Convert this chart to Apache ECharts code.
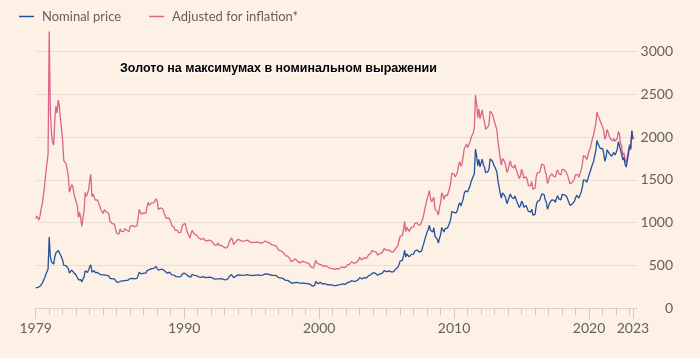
<!DOCTYPE html>
<html><head><meta charset="utf-8">
<script src="https://cdn.jsdelivr.net/npm/echarts@6/dist/echarts.min.js"></script>
<style>html,body{margin:0;padding:0;background:#FDF1E6}#c{width:700px;height:358px}</style>
</head><body><div id="c"></div>
<script>
const chartTitle = 'Золото на максимумах в номинальном выражении';
const seriesNames = ['Nominal price', 'Adjusted for inflation*'];
const startYear = 1979; // monthly data from January 1979
const nominal = [
236,245,242,239,257,279,295,301,355,392,392,456,
830,600,540,517,514,600,644,627,674,661,623,594,
557,500,499,495,480,460,409,410,443,437,413,410,
384,374,330,350,333,305,340,364,436,422,415,444,
481,505,420,432,438,413,422,416,412,394,382,388,
371,387,394,381,377,377,348,348,341,341,341,320,
303,299,304,325,316,317,317,330,323,326,325,322,
345,339,346,340,342,343,348,376,418,423,398,391,
408,401,409,438,460,449,451,461,460,465,467,486,
477,442,443,452,451,451,437,431,413,406,420,419,
404,388,390,384,371,367,375,365,362,367,394,409,
410,417,393,375,369,352,362,395,389,381,382,378,
384,364,363,358,357,367,368,356,349,359,360,361,
354,354,345,338,337,341,353,340,345,344,335,334,
329,330,330,342,367,372,392,379,355,364,374,383,
387,382,384,377,381,386,385,380,391,389,384,379,
379,377,382,391,385,387,386,383,383,383,386,387,
400,405,396,393,392,385,383,387,383,381,378,369,
355,347,352,344,344,341,324,324,323,325,306,289,
289,297,296,308,299,292,293,284,289,296,294,291,
287,288,286,282,277,262,256,257,265,311,293,283,
285,300,286,280,275,286,282,275,274,270,266,272,
266,262,263,261,272,270,268,273,283,283,276,276,
282,296,294,302,314,321,313,310,319,317,319,333,
357,359,340,328,355,356,351,360,379,379,389,407,
414,405,406,404,384,392,398,401,405,420,439,442,
424,423,434,429,422,431,424,438,456,470,476,509,
549,555,557,610,676,596,633,632,598,585,627,629,
631,665,655,679,667,655,665,665,713,754,806,803,
889,922,968,909,888,889,939,839,829,806,760,816,
858,943,924,890,928,946,934,949,996,1043,1127,1135,
1118,1095,1114,1148,1205,1233,1193,1215,1271,1343,1370,1391,
1360,1374,1424,1474,1510,1529,1573,1860,1780,1665,1739,1652,
1656,1743,1674,1650,1585,1596,1594,1626,1745,1747,1721,1684,
1671,1627,1593,1487,1414,1343,1286,1347,1349,1316,1275,1221,
1244,1300,1336,1299,1288,1279,1311,1296,1239,1222,1176,1200,
1251,1227,1179,1198,1199,1181,1131,1117,1125,1157,1086,1068,
1097,1200,1246,1242,1260,1276,1337,1341,1326,1266,1238,1157,
1192,1234,1231,1267,1246,1260,1236,1283,1315,1280,1282,1265,
1331,1331,1325,1335,1304,1281,1238,1202,1199,1215,1221,1250,
1291,1320,1301,1286,1284,1359,1413,1500,1510,1495,1471,1480,
1560,1597,1591,1683,1716,1732,1846,1960,1921,1900,1866,1858,
1867,1808,1718,1761,1850,1835,1807,1785,1776,1777,1821,1790,
1817,1856,1948,1937,1849,1837,1733,1764,1681,1650,1725,1798,
1898,1855,2070,1975
];
const adjusted = [
1048,1076,1053,1028,1090,1172,1224,1237,1445,1580,1568,1806,
3237,2310,2047,1939,1907,2202,2363,2282,2433,2366,2212,2091,
1944,1725,1712,1688,1622,1541,1354,1349,1444,1420,1338,1324,
1236,1201,1059,1120,1056,955,1057,1132,1352,1304,1287,1381,
1491,1566,1302,1335,1345,1264,1287,1265,1248,1190,1150,1164,
1106,1149,1166,1124,1108,1105,1016,1013,989,985,982,922,
873,858,869,926,897,897,894,927,904,910,904,895,
956,942,965,949,951,950,964,1042,1154,1167,1098,1075,
1114,1091,1108,1183,1237,1203,1209,1231,1224,1232,1233,1278,
1250,1154,1152,1171,1164,1159,1119,1099,1049,1027,1058,1056,
1014,966,967,945,909,895,911,883,876,884,946,978,
976,988,927,881,863,820,840,909,887,865,863,854,
864,819,813,802,796,815,817,787,771,790,792,794,
779,775,752,737,731,737,762,731,742,736,717,715,
701,700,700,722,771,781,823,792,742,757,778,797,
805,791,791,777,781,791,785,775,794,790,780,769,
766,758,768,782,770,770,768,758,758,755,764,766,
784,794,772,762,760,743,739,747,735,728,722,705,
678,659,669,650,650,644,612,609,607,611,575,543,
543,555,554,576,556,543,545,528,538,548,544,538,
531,530,526,516,507,479,466,468,480,560,527,509,
513,534,506,496,487,501,494,481,477,470,463,473,
460,451,452,446,462,459,458,467,481,484,472,475,
482,506,500,510,531,542,529,521,536,533,536,559,
596,596,561,541,589,591,579,594,622,622,642,672,
679,660,658,654,618,627,637,642,648,668,698,703,
674,668,681,669,658,672,657,679,698,714,728,784,
840,849,847,921,1014,894,943,942,897,883,947,944,
947,991,969,998,974,956,971,971,1041,1093,1161,1156,
1280,1318,1375,1282,1243,1236,1296,1158,1152,1128,1087,1175,
1236,1348,1321,1273,1318,1334,1317,1338,1404,1471,1578,1600,
1565,1533,1560,1596,1675,1714,1658,1689,1767,1867,1891,1920,
1877,1882,1937,1990,2023,2049,2108,2492,2385,2231,2330,2214,
2219,2318,2226,2178,2092,2107,2120,2146,2303,2289,2272,2223,
2206,2131,2087,1948,1852,1746,1672,1751,1754,1711,1658,1587,
1617,1677,1723,1663,1649,1637,1678,1659,1586,1564,1517,1548,
1626,1583,1521,1533,1535,1500,1436,1419,1429,1481,1390,1367,
1404,1536,1582,1577,1588,1608,1685,1690,1671,1595,1560,1458,
1490,1543,1539,1571,1545,1562,1533,1591,1617,1574,1577,1556,
1624,1624,1617,1615,1578,1550,1498,1454,1451,1470,1477,1513,
1562,1584,1561,1530,1528,1617,1681,1785,1797,1764,1736,1746,
1841,1868,1861,1986,2025,2044,2160,2293,2248,2223,2183,2155,
2166,2079,1976,2008,2091,2055,2006,1981,1971,1955,1985,1951,
1962,1986,2065,2034,1923,1892,1785,1817,1731,1700,1777,1852,
1917,1874,2080,1975
];
const yTickValues = [0, 500, 1000, 1500, 2000, 2500, 3000];
const yearTicks = [1979,1980,1981,1982,1983,1984,1985,1986,1987,1988,1989,1990,1991,1992,1993,1994,1995,1996,1997,1998,1999,2000,2001,2002,2003,2004,2005,2006,2007,2008,2009,2010,2011,2012,2013,2014,2015,2016,2017,2018,2019,2020,2021,2022,2023];
const xLabelValues = [1979, 1990, 2000, 2010, 2020, 2023.25];
const xLabelTexts = ['1979', '1990', '2000', '2010', '2020', '2023'];

const toPairs = arr => arr.map((v, i) => [startYear + i / 12, v]);
const FONT = 'Lato';
const GREY = '#66605C';

const chart = echarts.init(document.getElementById('c'), null, {renderer: 'canvas'});
chart.setOption({
  backgroundColor: '#FDF1E6',
  animation: false,
  title: {
    text: chartTitle, left: 120, top: 62, padding: 0,
    textStyle: {fontFamily: 'Liberation Sans', fontWeight: 'bold', fontSize: 12.5, color: '#000',
      textShadowColor: 'rgba(255,255,255,0.95)', textShadowOffsetY: 1.5, textShadowOffsetX: 0.5, textShadowBlur: 1}
  },
  legend: {
    left: 19, top: 10, padding: 0, itemGap: 28, itemWidth: 15, itemHeight: 1.5, icon: 'rect',
    data: seriesNames,
    textStyle: {fontFamily: FONT, fontSize: 13, color: GREY, padding: [0, 0, 0, 3]}
  },
  grid: {left: 35.7, right: 63, top: 51.7, bottom: 50, containLabel: false},
  xAxis: [{
    type: 'value', position: 'bottom', min: 1979, max: 2023.55,
    axisLine: {show: true, lineStyle: {color: '#DCD1C6', width: 1}},
    axisTick: {show: true, customValues: yearTicks, length: 7, lineStyle: {color: '#D3C9BE'}},
    axisLabel: {show: true, customValues: xLabelValues, margin: 13,
      fontFamily: FONT, fontSize: 14, color: GREY,
      formatter: v => { const k = xLabelValues.findIndex(x => Math.abs(x - v) < 1e-6); return k >= 0 ? xLabelTexts[k] : ''; }},
    splitLine: {show: false}
  }, {
    type: 'value', position: 'bottom', min: 1979, max: 2023.55,
    axisLine: {show: false},
    axisTick: {show: true, customValues: xLabelValues, length: 11, lineStyle: {color: '#D3C9BE'}},
    axisLabel: {show: false},
    splitLine: {show: false}
  }],
  yAxis: {
    type: 'value', position: 'right', min: 0, max: 3000, interval: 500,
    axisLine: {show: false}, axisTick: {show: false},
    axisLabel: {margin: 36, align: 'right', fontFamily: FONT, fontSize: 14, color: GREY,
      formatter: v => String(v)},
    splitLine: {lineStyle: {color: '#E9DED4', width: 1}}
  },
  series: [{
    name: seriesNames[1], type: 'line', data: toPairs(adjusted), showSymbol: false, symbol: 'none',
    clip: false, color: '#DB6588', lineStyle: {width: 1.3, color: '#DB6588'}
  }, {
    name: seriesNames[0], type: 'line', data: toPairs(nominal), showSymbol: false, symbol: 'none',
    clip: false, color: '#24519B', lineStyle: {width: 1.3, color: '#24519B'}
  }]
});
</script></body></html>
